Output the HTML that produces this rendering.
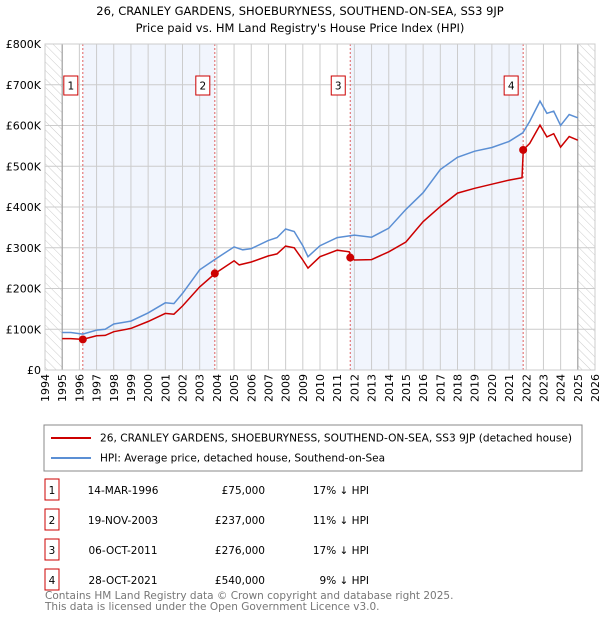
<!DOCTYPE html>
<html><head><meta charset="utf-8"><style>
body{margin:0;background:#fff;font-family:"Liberation Sans","DejaVu Sans",sans-serif;}
svg text{font-family:"DejaVu Sans","Liberation Sans",sans-serif;}
</style></head><body>
<svg id="c" width="600" height="620" xmlns="http://www.w3.org/2000/svg">
<defs><pattern id="hatch" width="6" height="6" patternUnits="userSpaceOnUse" patternTransform="rotate(-45)"><line x1="0" y1="0" x2="0" y2="6" stroke="#ccc" stroke-width="1"/></pattern></defs>
<text x="300" y="15" text-anchor="middle" font-size="11.5">26, CRANLEY GARDENS, SHOEBURYNESS, SOUTHEND-ON-SEA, SS3 9JP</text>
<text x="300" y="32" text-anchor="middle" font-size="11.5">Price paid vs. HM Land Registry's House Price Index (HPI)</text>
<g id="plot"></g>
<rect x="44" y="425" width="538" height="46" fill="#fff" stroke="#888"/>
<line x1="51" y1="438" x2="91" y2="438" stroke="#cc0000" stroke-width="2"/>
<text x="100" y="441.5" font-size="10.5" textLength="472" lengthAdjust="spacingAndGlyphs">26, CRANLEY GARDENS, SHOEBURYNESS, SOUTHEND-ON-SEA, SS3 9JP (detached house)</text>
<line x1="51" y1="458" x2="91" y2="458" stroke="#5b8fd4" stroke-width="2"/>
<text x="100" y="461.5" font-size="10.5">HPI: Average price, detached house, Southend-on-Sea</text>
<g id="table" font-size="10.5"></g>
<text x="45" y="599" font-size="10.5" fill="#777">Contains HM Land Registry data © Crown copyright and database right 2025.</text>
<text x="45" y="610" font-size="10.5" fill="#777">This data is licensed under the Open Government Licence v3.0.</text>
</svg>
<script>
const hpiYears=[1995,1995.5,1996.2,1997,1997.5,1998,1999,2000,2001,2001.5,2002,2003,2003.9,2005,2005.5,2006,2007,2007.5,2008,2008.5,2009,2009.3,2010,2011,2012,2013,2014,2015,2016,2017,2018,2019,2020,2021,2021.8,2022.2,2022.8,2023.2,2023.6,2024,2024.5,2025];
const hpiValues=[92,92,88,98,100,113,120,140,165,163,188,246,272,302,295,298,318,325,346,340,305,278,305,325,331,326,348,394,435,492,522,537,546,561,582,610,660,630,635,600,627,619];
const propYears=[1995,1995.5,1996.2,1997,1997.5,1998,1999,2000,2001,2001.5,2002,2003,2003.9,2005,2005.3,2006,2007,2007.5,2008,2008.5,2009,2009.3,2010,2011,2011.7,2011.8,2012,2013,2014,2015,2016,2017,2018,2019,2020,2021,2021.75,2021.83,2022.2,2022.8,2023.2,2023.6,2024,2024.5,2025];
const propValues=[77,77,75,84,85,94,102,119,139,137,157,204,237,268,258,265,280,285,304,300,270,250,278,294,290,276,270,271,290,314,364,401,434,446,456,466,472,540,556,601,572,580,547,573,564];
const saleYears=[1996.2,2003.88,2011.76,2021.82];
const saleValues=[75,237,276,540];
const saleLabels=["1","2","3","4"];
const saleDates=["14-MAR-1996","19-NOV-2003","06-OCT-2011","28-OCT-2021"];
const salePrices=["£75,000","£237,000","£276,000","£540,000"];
const saleDiffs=["17% ↓ HPI","11% ↓ HPI","17% ↓ HPI","9% ↓ HPI"];
const yTicks=[0,100,200,300,400,500,600,700,800];
const yTickLabels=["£0","£100K","£200K","£300K","£400K","£500K","£600K","£700K","£800K"];
const xStart=1994,xEnd=2026;
const L=45,R=595,T=44,B=370;
const X=y=>L+(y-xStart)/(xEnd-xStart)*(R-L);
const Y=v=>B-v/800*(B-T);
const NS="http://www.w3.org/2000/svg";
const g=document.getElementById('plot');
function mk(tag,attrs,parent){const e=document.createElementNS(NS,tag);for(const k in attrs)e.setAttribute(k,attrs[k]);(parent||g).appendChild(e);return e;}
let e;
e=mk('rect',{x:L,y:T,width:R-L,height:B-T,fill:'#fff'});


for(let i=0;i<saleYears.length;i+=2){
 e=mk('rect',{x:X(saleYears[i]),y:T,width:X(saleYears[i+1])-X(saleYears[i]),height:B-T,fill:'#eef3fc',opacity:0.8});
 
 
}
e=mk('rect',{x:L,y:T,width:X(1995)-L,height:B-T,fill:'url(#hatch)'});


e=mk('rect',{x:X(2025),y:T,width:R-X(2025),height:B-T,fill:'url(#hatch)'});


for(let yr=xStart;yr<=xEnd;yr++){
 e=mk('line',{x1:X(yr),x2:X(yr),y1:T,y2:B,stroke:'#ccc','stroke-width':1});
 
 
 const tx=X(yr)+4,ty=B+4;
 e=mk('text',{x:tx,y:ty,transform:`rotate(-90 ${tx} ${ty})`,'text-anchor':'end','font-size':11});
 e.textContent=yr;
 
 
}
yTicks.forEach((v,i)=>{
 e=mk('line',{x1:L,x2:R,y1:Y(v),y2:Y(v),stroke:'#ccc','stroke-width':1});
 
 
 e=mk('text',{x:L-4,y:Y(v)+4,'text-anchor':'end','font-size':11});
 e.textContent=yTickLabels[i];
 
 
});
e=mk('line',{x1:X(1995),x2:X(1995),y1:T,y2:B,stroke:'#999','stroke-width':1});


e=mk('line',{x1:X(2025),x2:X(2025),y1:T,y2:B,stroke:'#999','stroke-width':1});


saleYears.forEach((yr,i)=>{
 e=mk('line',{x1:X(yr),x2:X(yr),y1:T,y2:B,stroke:'#e06060','stroke-width':1,'stroke-dasharray':'2,2'});
 
 
 e=mk('rect',{x:X(yr)-19,y:76,width:14,height:19,fill:'#fff',stroke:'#cc0000'});
 
 
 e=mk('text',{x:X(yr)-12,y:89.5,'text-anchor':'middle','font-size':10.5});
 e.textContent=saleLabels[i];
 
 
});
const pts=(xs,vs)=>xs.map((x,i)=>X(x).toFixed(1)+','+Y(vs[i]).toFixed(1)).join(' ');
e=mk('polyline',{points:pts(hpiYears,hpiValues),fill:'none',stroke:'#5b8fd4','stroke-width':1.5});


e=mk('polyline',{points:pts(propYears,propValues),fill:'none',stroke:'#cc0000','stroke-width':1.5});


saleYears.forEach((yr,i)=>{
 e=mk('circle',{cx:X(yr),cy:Y(saleValues[i]),r:4,fill:'#cc0000'});
 
 
});
e=mk('rect',{x:L,y:T,width:R-L,height:B-T,fill:'none',stroke:'#ccc'});


const tb=document.getElementById('table');
saleLabels.forEach((lab,i)=>{
 const cy=490+i*30;
 e=mk('rect',{x:45,y:cy-11,width:14,height:21,fill:'#fff',stroke:'#cc0000'},tb);
 
 
 e=mk('text',{x:52,y:cy+4,'text-anchor':'middle'},tb);e.textContent=lab;
 
 
 e=mk('text',{x:123,y:cy+4,'text-anchor':'middle'},tb);e.textContent=saleDates[i];
 
 
 e=mk('text',{x:265,y:cy+4,'text-anchor':'end'},tb);e.textContent=salePrices[i];
 
 
 e=mk('text',{x:369,y:cy+4,'text-anchor':'end'},tb);e.textContent=saleDiffs[i];
 
 
});
</script>
</body></html>
